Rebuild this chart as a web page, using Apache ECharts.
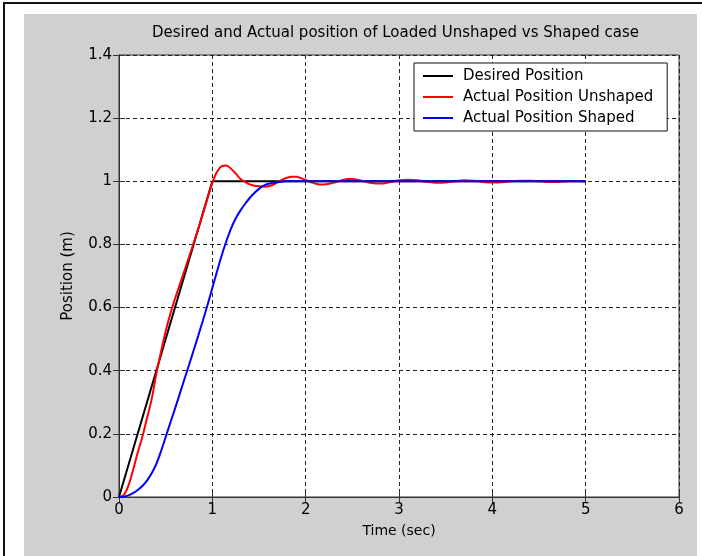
<!DOCTYPE html>
<html>
<head>
<meta charset="utf-8">
<script src="https://cdn.jsdelivr.net/npm/echarts@6/dist/echarts.min.js"></script>
<style>
  html, body { margin: 0; padding: 0; background: #ffffff; }
  body { width: 702px; height: 556px; position: relative; overflow: hidden; }
  #frame { position: absolute; left: 3px; top: 2px; width: 710px; height: 600px;
           border-top: 2px solid #111; border-left: 2px solid #111; }
  #chart { position: absolute; left: 24px; top: 14px; width: 673px; height: 542px; }
</style>
</head>
<body>
<div id="frame"></div>
<div id="chart"></div>
<script>
// Reference trajectory: ramp to 1 m over 1 s, then hold
const desiredTime = [0, 1, 5];
const desiredPos  = [0, 1, 1];

// Loaded response without input shaping
const unshapedTime = [0, 0.05, 0.1, 0.15, 0.2, 0.25, 0.3, 0.35, 0.4, 0.45, 0.5, 0.55, 0.6, 0.65, 0.7, 0.75, 0.8, 0.85, 0.9, 0.95,
  1.0, 1.05, 1.1, 1.15, 1.2, 1.25, 1.3, 1.35, 1.4, 1.45, 1.5, 1.55, 1.6, 1.65, 1.7, 1.75, 1.8, 1.85, 1.9, 1.95,
  2.0, 2.05, 2.1, 2.15, 2.2, 2.25, 2.3, 2.35, 2.4, 2.45, 2.5, 2.55, 2.6, 2.65, 2.7, 2.75, 2.8, 2.85, 2.9,
  3.0, 3.1, 3.2, 3.3, 3.4, 3.5, 3.6, 3.7, 3.8, 3.9, 4.0, 4.1, 4.2, 4.3, 4.4, 4.5, 4.6, 4.7, 4.8, 4.9, 5.0];
const unshapedPos = [0, 0.006, 0.035, 0.085, 0.14, 0.19, 0.25, 0.31, 0.39, 0.46, 0.525, 0.58, 0.628, 0.672, 0.716, 0.76, 0.805, 0.85, 0.898, 0.948,
  0.995, 1.03, 1.048, 1.05, 1.04, 1.025, 1.008, 0.998, 0.99, 0.986, 0.984, 0.983, 0.984, 0.989, 0.997, 1.005, 1.011, 1.014, 1.014, 1.01,
  1.004, 0.998, 0.993, 0.99, 0.99, 0.992, 0.996, 1.0, 1.004, 1.007, 1.007, 1.005, 1.002, 0.998, 0.995, 0.993, 0.993, 0.994, 0.997,
  1.003, 1.005, 1.003, 0.998, 0.995, 0.996, 1.0, 1.003, 1.002, 0.998, 0.996, 0.997, 1.0, 1.002, 1.002, 1.0, 0.998, 0.998, 1.0, 1.001, 1.0];

// Loaded response with input shaping
const shapedTime = [0, 0.05, 0.1, 0.15, 0.2, 0.25, 0.3, 0.35, 0.4, 0.45, 0.5, 0.55, 0.6, 0.65, 0.7, 0.75, 0.8, 0.85, 0.9, 0.95,
  1.0, 1.05, 1.1, 1.15, 1.2, 1.25, 1.3, 1.35, 1.4, 1.45, 1.5, 1.55, 1.6, 1.7, 1.8, 2.0, 3.0, 4.0, 5.0];
const shapedPos = [0, 0.001, 0.005, 0.012, 0.022, 0.035, 0.052, 0.075, 0.105, 0.145, 0.19, 0.235, 0.28, 0.326, 0.372, 0.418, 0.465, 0.512, 0.56, 0.61,
  0.662, 0.714, 0.765, 0.81, 0.85, 0.882, 0.907, 0.928, 0.947, 0.963, 0.976, 0.986, 0.992, 0.997, 1.0, 1.0, 1.0, 1.0, 1.0];

// Axis ticks
const xTicks = [0, 1, 2, 3, 4, 5, 6];
const yTicks = ['0', '0.2', '0.4', '0.6', '0.8', '1', '1.2', '1.4'];

const seriesNames = ['Desired Position', 'Actual Position Unshaped', 'Actual Position Shaped'];
const titleText = 'Desired and Actual position of Loaded Unshaped vs Shaped case';

const zip = (xs, ys) => xs.map((x, i) => [x, ys[i]]);

const FONT = 'DejaVu Sans';
const gridDash = { color: '#222', width: 1, type: [4, 3] };
const axisCol = '#333';

const xMin = xTicks[0], xMax = xTicks[xTicks.length - 1], xStep = xTicks[1] - xTicks[0];
const yMin = Number(yTicks[0]), yMax = Number(yTicks[yTicks.length - 1]), yStep = Number(yTicks[1]) - Number(yTicks[0]);

const fmtY = v => {
  const s = yTicks.find(t => Math.abs(Number(t) - v) < 1e-6);
  return s === undefined ? '' : s;
};

const chart = echarts.init(document.getElementById('chart'), null, { renderer: 'canvas' });
chart.setOption({
  backgroundColor: '#d0d0d0',
  animation: false,
  textStyle: { fontFamily: FONT },
  title: {
    text: titleText,
    left: 128,
    top: 12,
    padding: 0,
    textStyle: { fontFamily: FONT, fontSize: 15, fontWeight: 'normal', color: '#000' }
  },
  grid: {
    left: 95, top: 41, right: 18, bottom: 59,
    show: true, backgroundColor: '#ffffff', borderColor: axisCol, borderWidth: 1
  },
  legend: {
    orient: 'vertical',
    left: 390, top: 49,
    padding: [5, 14, 5, 9],
    backgroundColor: '#ffffff',
    borderColor: '#111', borderWidth: 1, borderRadius: 0,
    itemWidth: 30, itemHeight: 2, itemGap: 5,
    icon: 'rect',
    data: seriesNames,
    textStyle: { fontFamily: FONT, fontSize: 15, color: '#000', lineHeight: 16, padding: [0, 0, 0, 5] }
  },
  xAxis: [{
    type: 'value', min: xMin, max: xMax, interval: xStep,
    name: 'Time (sec)', nameLocation: 'middle', nameGap: 27,
    nameTextStyle: { fontFamily: FONT, fontSize: 14, color: '#000' },
    axisLine: { show: true, lineStyle: { color: axisCol } },
    axisTick: { show: true, inside: true, length: 6, lineStyle: { color: axisCol } },
    axisLabel: { fontFamily: FONT, fontSize: 15, color: '#000', margin: 6 },
    splitLine: { show: true, lineStyle: gridDash }
  }, {
    type: 'value', min: xMin, max: xMax, interval: xStep, position: 'top',
    axisLine: { show: true, lineStyle: { color: axisCol } },
    axisTick: { show: true, inside: true, length: 6, lineStyle: { color: axisCol } },
    axisLabel: { show: false }, splitLine: { show: false }
  }],
  yAxis: [{
    type: 'value', min: yMin, max: yMax, interval: yStep,
    name: 'Position (m)', nameLocation: 'middle', nameGap: 43,
    nameTextStyle: { fontFamily: FONT, fontSize: 15, color: '#000' },
    axisLine: { show: true, lineStyle: { color: axisCol } },
    axisTick: { show: true, inside: true, length: 6, lineStyle: { color: axisCol } },
    axisLabel: { fontFamily: FONT, fontSize: 15, color: '#000', margin: 7, formatter: fmtY },
    splitLine: { show: true, lineStyle: gridDash }
  }, {
    type: 'value', min: yMin, max: yMax, interval: yStep, position: 'right',
    axisLine: { show: true, lineStyle: { color: axisCol } },
    axisTick: { show: true, inside: true, length: 6, lineStyle: { color: axisCol } },
    axisLabel: { show: false }, splitLine: { show: false }
  }],
  series: [{
    name: seriesNames[0], type: 'line', data: zip(desiredTime, desiredPos),
    showSymbol: false, symbol: 'none', color: '#000000',
    lineStyle: { color: '#000000', width: 2 }, z: 2
  }, {
    name: seriesNames[1], type: 'line', data: zip(unshapedTime, unshapedPos),
    showSymbol: false, symbol: 'none', smooth: 0.3, color: '#ff0000',
    lineStyle: { color: '#ff0000', width: 2 }, z: 3
  }, {
    name: seriesNames[2], type: 'line', data: zip(shapedTime, shapedPos),
    showSymbol: false, symbol: 'none', smooth: 0.3, color: '#0000ff',
    lineStyle: { color: '#0000ff', width: 2 }, z: 4
  }]
});
</script>
</body>
</html>
